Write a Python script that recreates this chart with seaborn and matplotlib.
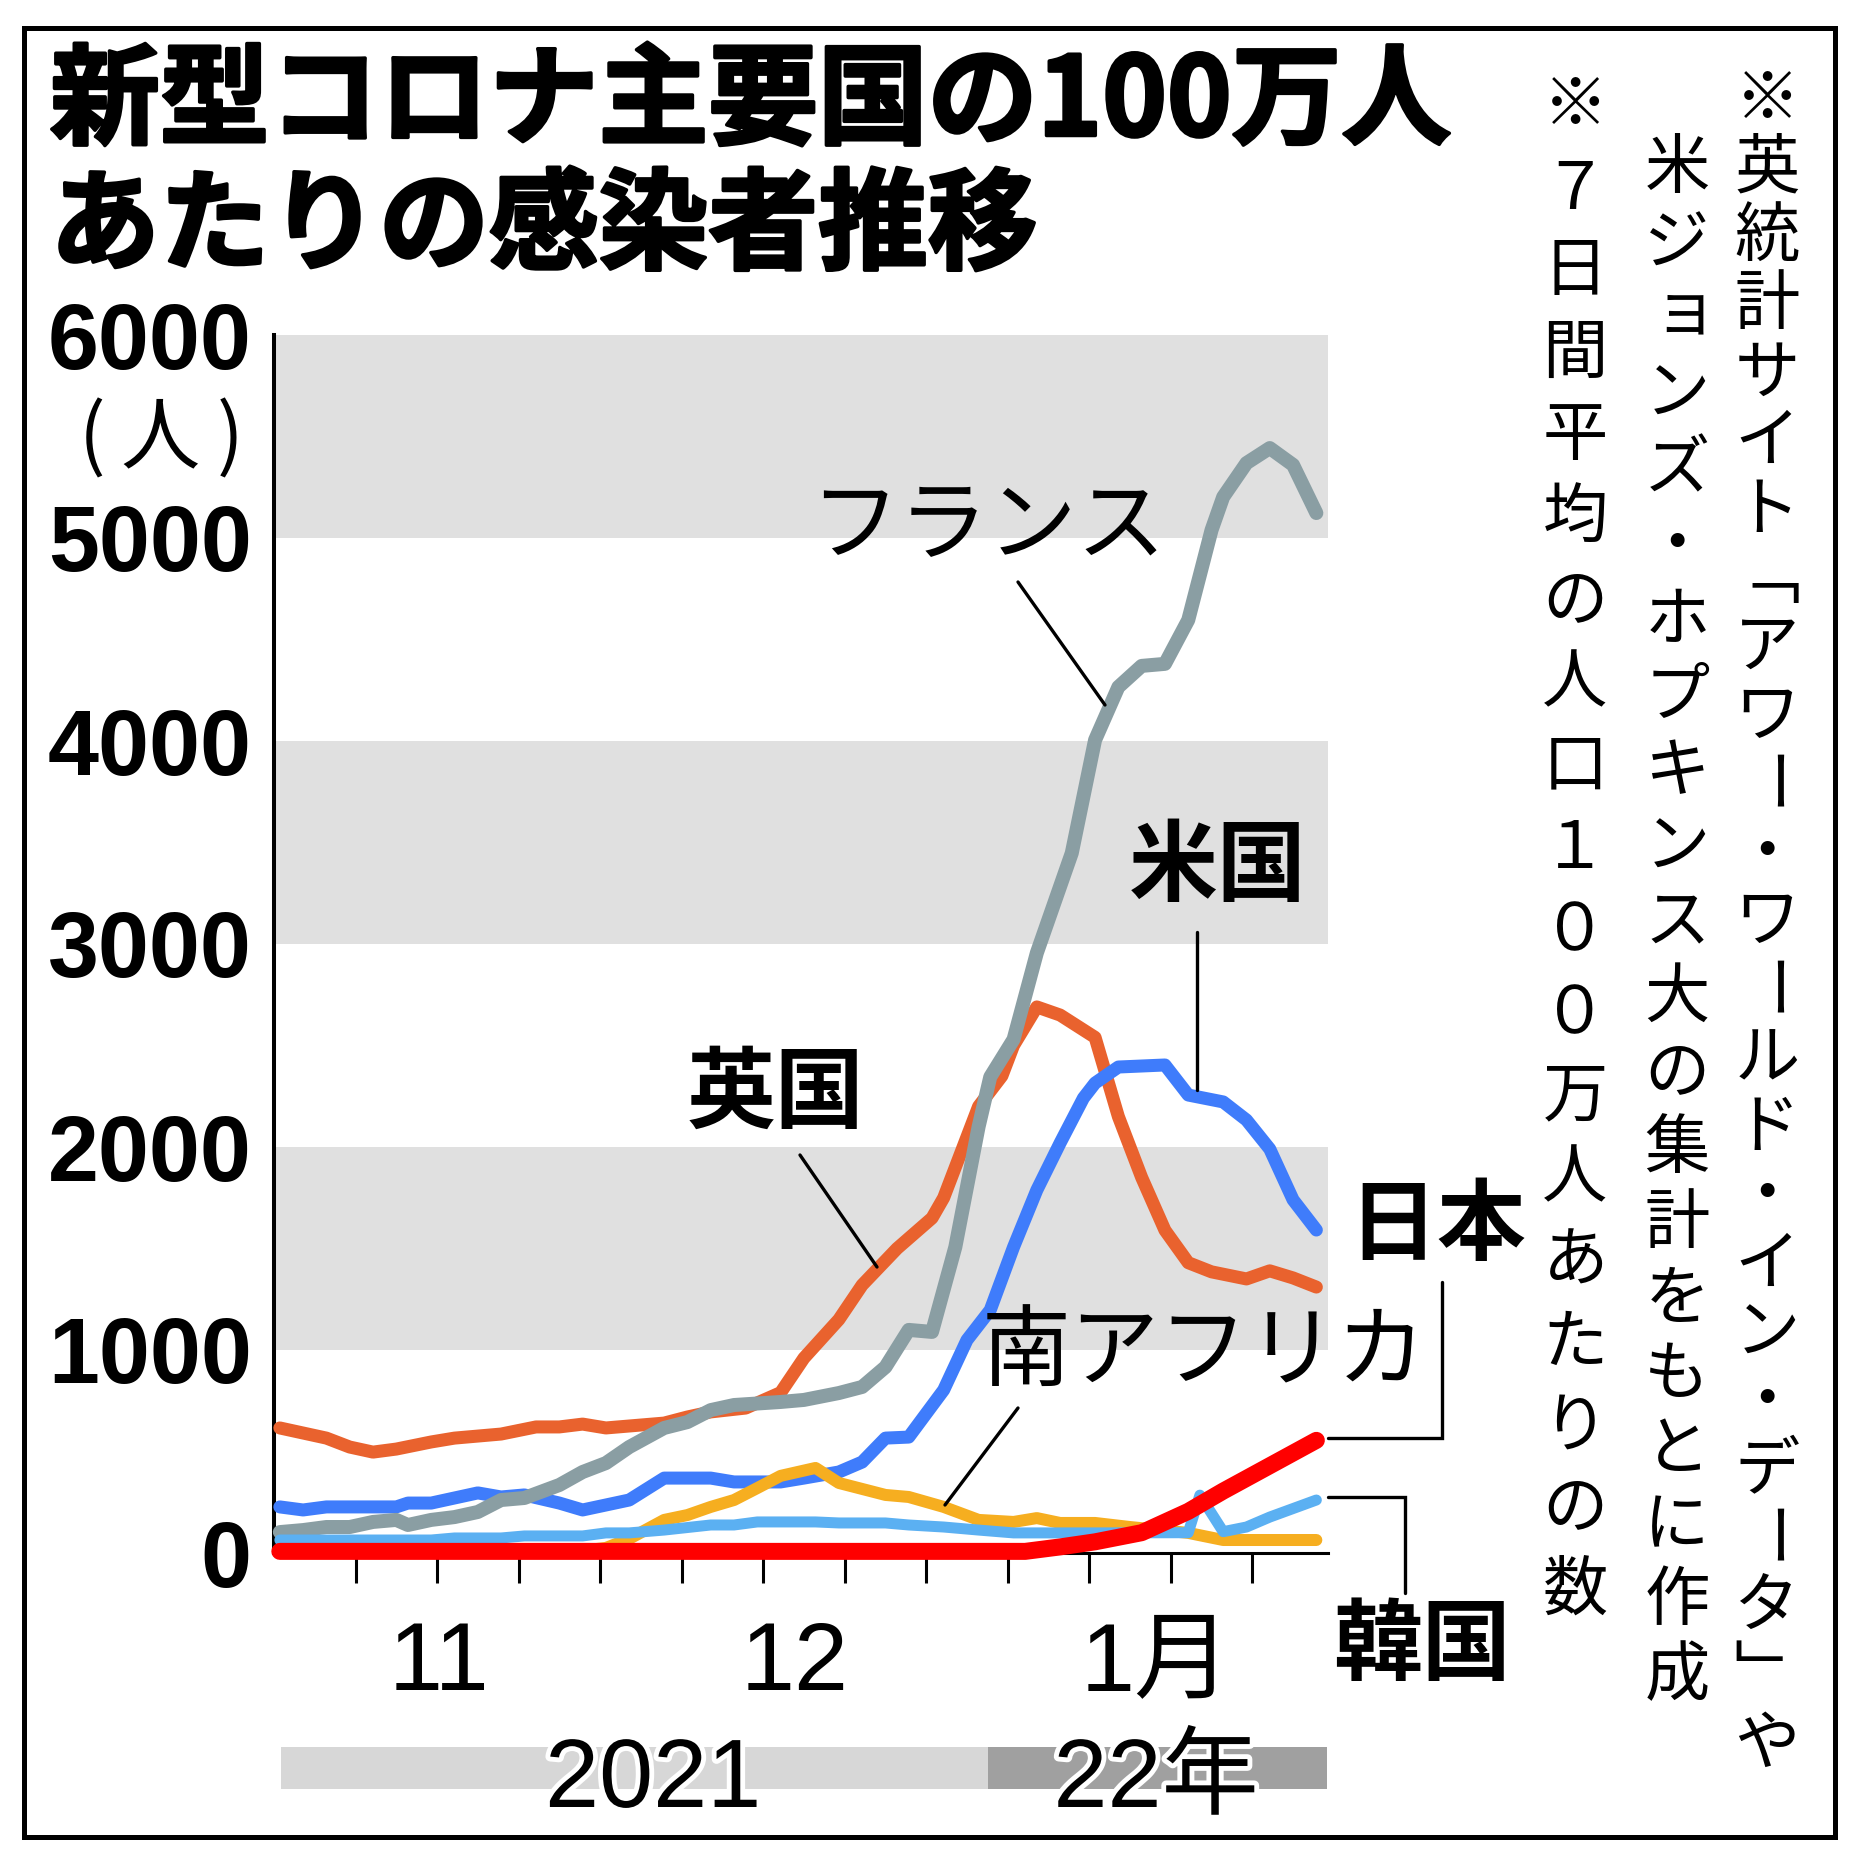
import matplotlib
matplotlib.use("Agg")
import matplotlib.pyplot as plt
import matplotlib.patheffects as pe
from matplotlib.lines import Line2D
from matplotlib.patches import Rectangle
import seaborn as sns
import pandas as pd

# --- データ (day 0 = 2021/11/1, 7日間平均の100万人あたり感染者数) ---
countries = ['英国', '米国', 'フランス', '南アフリカ', '韓国', '日本']

uk_days = [0, 4, 6, 8, 10, 13, 15, 19, 22, 24, 26, 28, 33, 35, 37, 40, 43, 45, 48, 50, 53, 56, 57, 59,
           60, 62, 63, 65, 67, 70, 72, 74, 76, 78, 80, 83, 85, 87, 89]
uk_vals = [616, 566, 522, 497, 512, 547, 566, 586, 621, 621, 635, 616, 640, 670, 695, 714, 790, 960, 1150,
           1320, 1500, 1650, 1750, 2050, 2200, 2350, 2500, 2690, 2650, 2540, 2150, 1850, 1590, 1430, 1385,
           1350, 1390, 1355, 1310]

us_days = [0, 2, 4, 10, 11, 13, 17, 19, 21, 24, 26, 30, 33, 37, 39, 43, 45, 48, 50, 52, 54, 57, 59, 61,
           63, 65, 67, 69, 70, 72, 76, 78, 81, 83, 85, 87, 89]
us_vals = [227, 212, 227, 227, 246, 246, 296, 276, 286, 246, 212, 261, 369, 369, 350, 350, 369, 399, 448,
           566, 571, 803, 1049, 1197, 1507, 1788, 2020, 2241, 2315, 2394, 2404, 2256, 2222, 2133, 1990,
           1740, 1591]

fr_days = [0, 2, 4, 6, 8, 10, 11, 13, 15, 17, 19, 21, 24, 26, 28, 30, 33, 35, 37, 39, 43, 45, 48, 50,
           52, 54, 56, 58, 60, 61, 63, 65, 68, 70, 72, 74, 76, 78, 80, 81, 83, 85, 87, 89]
fr_vals = [103, 113, 128, 128, 153, 163, 138, 163, 177, 202, 261, 271, 335, 399, 443, 522, 616, 645, 704,
           729, 744, 754, 788, 818, 916, 1099, 1089, 1507, 2100, 2345, 2530, 2956, 3448, 4005, 4266, 4370,
           4380, 4596, 5039, 5202, 5369, 5443, 5360, 5123]

za_days = [0, 20, 26, 28, 30, 33, 35, 37, 39, 41, 43, 46, 48, 52, 54, 57, 60, 63, 65, 67, 70, 73, 78,
           81, 89]
za_vals = [8, 10, 12, 25, 70, 163, 187, 227, 261, 320, 380, 419, 345, 286, 276, 227, 163, 153, 172, 148,
           148, 128, 99, 64, 64]

kr_days = [0, 13, 15, 19, 21, 26, 28, 30, 33, 37, 39, 41, 44, 46, 48, 52, 54, 57, 60, 63, 70, 78, 79,
           81, 83, 85, 89]
kr_vals = [64, 64, 74, 74, 84, 84, 99, 99, 113, 138, 138, 153, 153, 153, 148, 148, 138, 128, 113, 99, 99,
           100, 285, 105, 128, 177, 261]

jp_days = [0, 64, 67, 70, 74, 78, 81, 85, 89]
jp_vals = [8, 8, 30, 55, 100, 205, 305, 430, 555]

month_labels = ['11', '12', '1月']
year_labels = ['2021', '22年']
y_ticks = [0, 1000, 2000, 3000, 4000, 5000, 6000]

palette = {'英国': '#e9622e', '米国': '#3f7cfb', 'フランス': '#8a9ea3',
           '南アフリカ': '#f6ae20', '韓国': '#5bb0f2', '日本': '#ff0000'}
# 線幅は px 単位 (dpi=100 なので pt = px * 0.72)
widths_px = {'英国': 13, '米国': 13, 'フランス': 14, '南アフリカ': 12, '韓国': 11, '日本': 17}

rows = []
for name, ds, vs in zip(countries, [uk_days, us_days, fr_days, za_days, kr_days, jp_days],
                        [uk_vals, us_vals, fr_vals, za_vals, kr_vals, jp_vals]):
    for d, v in zip(ds, vs):
        rows.append({'country': name, 'day': d, 'value': v})
df = pd.DataFrame(rows)

# --- 描画 ---
sns.set_theme(style="white")
JP = 'Noto Sans CJK JP'
NUM = ['Liberation Sans', JP]
NARROW = ['Liberation Sans Narrow', 'Liberation Sans', JP]
plt.rcParams['font.family'] = [JP, 'DejaVu Sans']
plt.rcParams['text.color'] = 'black'
plt.rcParams['xtick.color'] = 'black'
plt.rcParams['ytick.color'] = 'black'

W, H = 1864, 1859
fig = plt.figure(figsize=(W / 100, H / 100), dpi=100)


def fx(px):
    return px / W


def fy(py):
    return 1 - py / H


ax = fig.add_axes([fx(274), fy(1553), (1328 - 274) / W, (1553 - 335) / H])

for lo in (1000, 3000, 5000):
    ax.axhspan(lo, lo + 1000, color='#e0e0e0', lw=0, zorder=0)

for name in countries:
    sns.lineplot(data=df[df['country'] == name], x='day', y='value', color=palette[name],
                 linewidth=widths_px[name] * 0.72, sort=False, estimator=None, ax=ax)

for line in ax.get_lines():
    line.set_solid_capstyle('round')
    line.set_solid_joinstyle('round')
    line.set_clip_on(False)
    line.set_zorder(3)

ax.set_xlim(-0.5, 90)
ax.set_ylim(0, 6000)

for s in ('top', 'right'):
    ax.spines[s].set_visible(False)
ax.spines['left'].set_linewidth(2.9)
ax.spines['bottom'].set_linewidth(2.2)
ax.spines['left'].set_color('black')
ax.spines['bottom'].set_color('black')

ax.set_yticks(y_ticks)
ax.set_yticklabels([str(t) for t in y_ticks])
ax.tick_params(axis='y', direction='in', length=23, width=2.5, pad=16, labelsize=66,
               colors='black', labelcolor='black')
for lbl in ax.get_yticklabels():
    lbl.set_fontfamily(NUM)
    lbl.set_fontweight('bold')

ax.set_xticks([-0.5, 29.5, 60.5])
ax.set_xticks([6.5 + 7 * k for k in range(12)], minor=True)
ax.set_xticklabels([])
ax.tick_params(axis='x', which='major', direction='out', length=57, width=2.2, colors='black')
ax.tick_params(axis='x', which='minor', direction='out', length=21.6, width=2.2, colors='black',
               bottom=True)
ax.set_xlabel('')
ax.set_ylabel('')

# 月ラベル
for lab, px in zip(month_labels, [439, 795, 1156]):
    fig.text(fx(px), fy(1690), lab, ha='center', va='baseline', fontsize=70, family=NARROW,
             color='black')

# 年の帯
fig.patches.append(Rectangle((fx(281), fy(1789)), (988 - 281) / W, 42 / H,
                             transform=fig.transFigure, color='#d7d7d7', lw=0, zorder=0))
fig.patches.append(Rectangle((fx(988), fy(1789)), (1327 - 988) / W, 42 / H,
                             transform=fig.transFigure, color='#a0a0a0', lw=0, zorder=0))
for lab, px in zip(year_labels, [653, 1156]):
    fig.text(fx(px), fy(1807), lab, ha='center', va='baseline', fontsize=70, family=NARROW,
             color='black', path_effects=[pe.withStroke(linewidth=7, foreground='white')], zorder=3)

# (人)
for ch, px in zip(['(', '人', ')'], [92, 160, 230]):
    fig.text(fx(px), fy(440), ch, ha='center', va='center', fontsize=57, family=[JP], color='black')

# タイトル
heavy = [pe.withStroke(linewidth=2.5, foreground='black')]
fig.text(fx(50), fy(104), '新型コロナ主要国の100万人', ha='left', va='center', fontsize=79,
         fontweight='bold', family=[JP], color='black', path_effects=heavy)
fig.text(fx(50), fy(229), 'あたりの感染者推移', ha='left', va='center', fontsize=79,
         fontweight='bold', family=[JP], color='black', path_effects=heavy)

# 国名ラベル
labels = [('フランス', 988, 528, 'normal'), ('米国', 1218, 868, 'bold'), ('英国', 775, 1095, 'bold'),
          ('南アフリカ', 1204, 1354, 'normal'), ('日本', 1437, 1227, 'bold'), ('韓国', 1422, 1647, 'bold')]
for txt, px, py, w in labels:
    fig.text(fx(px), fy(py), txt, ha='center', va='center', fontsize=64, fontweight=w, family=[JP],
             color='black')


def leader(pts):
    xs = [fx(p[0]) for p in pts]
    ys = [fy(p[1]) for p in pts]
    fig.add_artist(Line2D(xs, ys, transform=fig.transFigure, color='black', lw=2.4,
                          solid_joinstyle='miter'))


leader([(1018, 582), (1105, 705)])
leader([(1197, 932), (1197, 1090)])
leader([(800, 1155), (877, 1267)])
leader([(1018, 1408), (945, 1505)])
leader([(1328, 1438), (1442, 1438), (1442, 1282)])
leader([(1328, 1497), (1405, 1497), (1405, 1593)])

# 縦書きの注記 (括弧は縦書き用の字形)
notes = [("※英統計サイト﹁アワー・ワールド・イン・データ﹂や", 1767, 66, 1780),
         ("米ジョンズ・ホプキンス大の集計をもとに作成", 1677, 132, 1715),
         ("※７日間平均の人口１００万人あたりの数", 1575, 66, 1633)]
for text, cx, top, bottom in notes:
    pitch = (bottom - top) / len(text)
    for k, ch in enumerate(text):
        cy = top + pitch * (k + 0.5)
        rot = -90 if ch == 'ー' else 0
        dx, dy = (8, -8) if ch in 'ョッャュ' else (0, 0)
        fig.text(fx(cx + dx), fy(cy + dy), ch, ha='center', va='center', rotation=rot,
                 fontsize=47, family=[JP], color='black')

# 外枠
fig.patches.append(Rectangle((fx(24), fy(1837)), (1835 - 24) / W, (1837 - 28) / H,
                             transform=fig.transFigure, fill=False, ec='black', lw=3.6))

fig.savefig('out.png', dpi=100)
